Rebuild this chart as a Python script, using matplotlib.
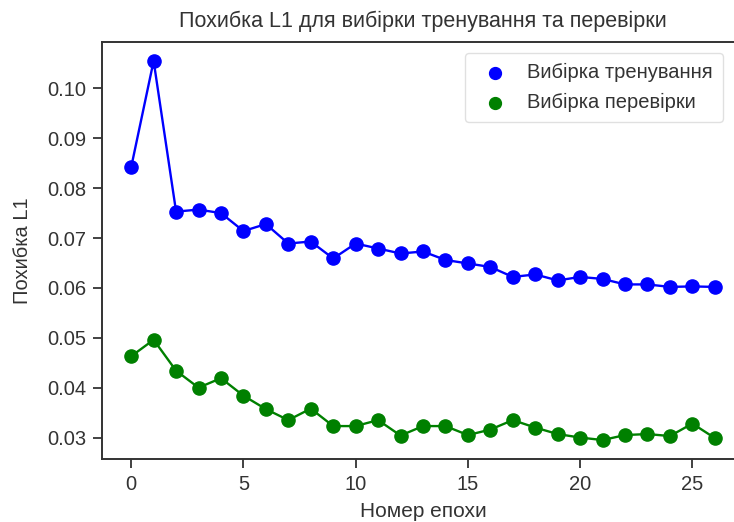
import numpy as np
import matplotlib
matplotlib.use("Agg")
import matplotlib.pyplot as plt
import seaborn as sns

epochs = list(range(27))
train_l1 = [0.0842, 0.1055, 0.0753, 0.0757, 0.0750, 0.0714, 0.0728, 0.0689, 0.0693,
            0.0659, 0.0689, 0.0679, 0.0669, 0.0673, 0.0656, 0.0649, 0.0642, 0.0622,
            0.0627, 0.0615, 0.0622, 0.0618, 0.0607, 0.0607, 0.0602, 0.0603, 0.0602]
val_l1 = [0.0463, 0.0496, 0.0434, 0.0400, 0.0419, 0.0384, 0.0357, 0.0335, 0.0358,
          0.0323, 0.0323, 0.0335, 0.0304, 0.0323, 0.0323, 0.0305, 0.0316, 0.0335,
          0.0320, 0.0307, 0.0300, 0.0295, 0.0305, 0.0307, 0.0303, 0.0328, 0.0299]

sns.set_style("ticks")
plt.rcParams['font.family'] = ['Liberation Sans', 'DejaVu Sans']

fig = plt.figure(figsize=(7.34, 5.22), dpi=100)
ax = fig.add_axes([102 / 734, 1 - 459 / 522, 642 / 734, 417 / 522])

ax.plot(epochs, train_l1, color="blue", lw=1.7)
ax.scatter(epochs, train_l1, color="blue", s=90, label="Вибірка тренування", zorder=3)
ax.plot(epochs, val_l1, color="green", lw=1.7)
ax.scatter(epochs, val_l1, color="green", s=90, label="Вибірка перевірки", zorder=3)

ax.set_title("Похибка L1 для вибірки тренування та перевірки", fontsize=15.5,
             color="0.2", pad=11)
ax.set_xlabel("Номер епохи", fontsize=15, color="0.2", labelpad=6)
ax.set_ylabel("Похибка L1", fontsize=14.5, color="0.2", labelpad=11)
ax.tick_params(labelsize=14.5, colors="0.2", length=6.5, width=1.3, pad=5)
for s in ax.spines.values():
    s.set_linewidth(1.4)
    s.set_color("0.2")

leg = ax.legend(loc="upper right", bbox_to_anchor=(0.967, 0.974), borderaxespad=0,
                fontsize=14.5, frameon=True, markerscale=0.9, labelspacing=0.55,
                handletextpad=0.6, borderpad=0.5)
leg.get_frame().set_edgecolor("0.85")
for t in leg.get_texts():
    t.set_color("0.2")

fig.savefig("out.png", dpi=100)
